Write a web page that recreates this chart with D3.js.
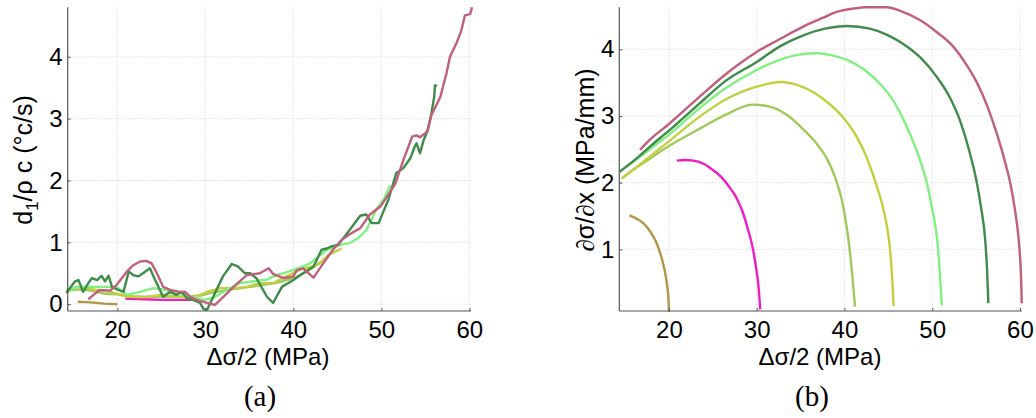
<!DOCTYPE html>
<html><head><meta charset="utf-8">
<script src="https://cdn.jsdelivr.net/npm/d3@7"></script>
<style>body{margin:0;background:#fff}svg{display:block}</style>
</head><body>
<svg id="c" width="1036" height="418"></svg>
<script>
// ---- tick labels ----
const xTicks = [20, 30, 40, 50, 60];
const yTicksA = [0, 1, 2, 3, 4];
const yTicksB = [1, 2, 3, 4];

// ---- series colours (same order in both panels) ----
const seriesNames = ["brown", "magenta", "olive", "yellow", "lightgreen", "darkgreen", "mauve"];
const seriesColors = ["#b3954a", "#f01cc0", "#a0c85a", "#c2d040", "#80f080", "#3f8c4a", "#c0607a"];

// ---- panel (a): d1/rho c ----
const aBrown = [[15.5,0.04],[17,0.03],[18.5,0.01],[20,0.0]];
const aMagenta = [[20.9,0.09],[23,0.08],[25,0.07],[27,0.07],[28.8,0.07]];
const aOlive = [[14.3,0.22],[15.5,0.24],[17,0.22],[18.5,0.17],[20,0.16],[21.5,0.13],[23,0.12],[25,0.12],[27,0.12],[28.5,0.13],[29.5,0.14],[30.5,0.18],[32,0.22],[34,0.26],[36,0.30],[38,0.34],[40,0.42],[41.5,0.52],[43.1,0.68]];
const aYellow = [[14.2,0.23],[15.8,0.28],[17.3,0.24],[19.2,0.20],[21.1,0.12],[23.0,0.11],[24.9,0.15],[26.8,0.12],[28.6,0.10],[30.2,0.20],[31.7,0.26],[33.2,0.26],[34.7,0.28],[36.2,0.34],[37.7,0.34],[39.2,0.45],[41.1,0.58],[42.3,0.61],[43.0,0.66],[44.0,0.80],[45.5,0.90]];
const aLightGreen = [[14.2,0.20],[15.4,0.28],[17.3,0.28],[18.8,0.28],[19.9,0.28],[21.1,0.15],[22.6,0.20],[24.1,0.26],[25.6,0.23],[27.1,0.18],[28.6,0.11],[29.8,0.07],[30.9,0.10],[32.4,0.23],[33.9,0.34],[35.5,0.37],[37.0,0.40],[38.1,0.47],[40.0,0.55],[41.9,0.66],[43.8,0.88],[45.3,0.96],[46.4,0.99],[47.4,1.07],[48.3,1.20],[49.5,1.55],[50.3,1.70],[51.0,1.92]];
const aDarkGreen = [[14.2,0.18],[15.2,0.37],[15.6,0.39],[16.1,0.20],[16.7,0.34],[17.1,0.42],[17.7,0.39],[18.2,0.46],[18.6,0.37],[19.0,0.46],[19.4,0.28],[20.1,0.23],[20.7,0.20],[21.3,0.53],[21.8,0.47],[22.4,0.45],[23.0,0.51],[23.7,0.58],[24.3,0.39],[25.2,0.12],[26.0,0.20],[26.7,0.15],[27.3,0.20],[27.9,0.10],[28.6,0.07],[29.4,0.02],[29.8,-0.08],[30.2,-0.09],[30.9,0.12],[32.0,0.45],[33.0,0.65],[33.7,0.61],[34.5,0.50],[35.1,0.50],[35.8,0.42],[37.0,0.12],[37.7,0.02],[38.7,0.28],[40.0,0.39],[41.1,0.50],[42.3,0.61],[43.2,0.88],[43.8,0.90],[44.4,0.94],[45.1,0.96],[45.7,1.07],[46.4,1.20],[47.6,1.43],[48.3,1.45],[48.9,1.31],[49.7,1.31],[50.0,1.42],[50.8,1.69],[51.7,2.12],[52.5,2.20],[53.3,2.36],[53.8,2.55],[54.0,2.60],[54.4,2.44],[54.8,2.65],[55.3,2.82],[55.7,3.09],[56.0,3.35],[56.1,3.54],[56.3,3.52]];
const aMauve = [[16.7,0.08],[17.3,0.15],[18.0,0.23],[19.2,0.22],[19.9,0.31],[21.1,0.53],[21.8,0.63],[22.6,0.69],[23.3,0.70],[23.9,0.66],[24.5,0.50],[25.2,0.28],[26.0,0.23],[27.1,0.20],[27.7,0.20],[28.3,0.12],[29.0,0.07],[30.2,0.02],[31.1,-0.01],[31.7,0.07],[33.2,0.28],[34.7,0.47],[36.2,0.50],[37.2,0.58],[37.7,0.49],[38.9,0.42],[40.0,0.45],[40.4,0.55],[41.1,0.58],[42.3,0.43],[43.4,0.66],[44.5,0.88],[45.5,1.04],[46.4,1.13],[47.6,1.23],[48.7,1.45],[49.9,1.58],[50.7,1.75],[51.6,1.95],[52.5,2.33],[53.5,2.71],[54.0,2.73],[54.4,2.70],[55.2,2.79],[55.7,3.06],[56.7,3.35],[57.4,3.73],[57.8,4.0],[58.6,4.24],[59.1,4.43],[59.5,4.67],[60.1,4.69],[60.3,4.80]];

// ---- panel (b): d sigma / dx ----
const bBrown = [[15.5,1.51],[16.3,1.46],[17.1,1.39],[17.9,1.26],[18.6,1.09],[19.1,0.90],[19.5,0.69],[19.8,0.45],[19.95,0.25],[20.0,0.06]];
const bMagenta = [[20.9,2.33],[21.8,2.34],[22.8,2.33],[24.0,2.28],[25.0,2.19],[26.0,2.08],[26.8,1.95],[27.7,1.77],[28.4,1.56],[29.0,1.30],[29.5,1.05],[29.9,0.75],[30.2,0.45],[30.4,0.10]];
const bOlive = [[14.7,2.07],[16,2.2],[17.8,2.36],[20,2.55],[23.5,2.81],[26.5,3.02],[29.5,3.17],[31.5,3.14],[33.5,3.01],[35.3,2.80],[36.8,2.59],[38.0,2.36],[38.9,2.09],[39.7,1.74],[40.2,1.38],[40.6,0.99],[40.9,0.6],[41.1,0.3],[41.2,0.14]];
const bYellow = [[14.6,2.06],[16,2.2],[17.8,2.39],[20,2.62],[23.5,2.99],[26.5,3.25],[30,3.44],[32.8,3.51],[34.5,3.47],[36.4,3.36],[38.3,3.18],[39.9,2.97],[41.3,2.71],[42.5,2.39],[43.5,2.02],[44.4,1.62],[44.9,1.3],[45.2,0.99],[45.45,0.55],[45.6,0.15]];
const bLightGreen = [[15.2,2.24],[17.8,2.5],[20,2.72],[23.5,3.12],[26.5,3.42],[30,3.69],[32.6,3.84],[34.8,3.92],[36.8,3.94],[38.6,3.91],[40.3,3.84],[42.3,3.69],[44.0,3.49],[45.7,3.2],[47.1,2.84],[48.4,2.42],[49.4,1.99],[50.0,1.6],[50.5,1.22],[50.85,0.7],[51.1,0.16]];
const bDarkGreen = [[14.34,2.16],[16,2.33],[18,2.56],[20,2.78],[23.5,3.19],[26.5,3.53],[30,3.81],[32.6,4.04],[35.3,4.21],[37.8,4.31],[40.3,4.35],[42.9,4.31],[44.8,4.22],[46.7,4.08],[48.7,3.87],[50.5,3.59],[52,3.28],[53.2,2.92],[54.2,2.49],[55.1,1.99],[55.6,1.6],[56.0,1.2],[56.25,0.7],[56.4,0.19]];
const bMauve = [[16.7,2.49],[17.8,2.64],[20,2.88],[23.5,3.29],[26.5,3.63],[30,3.96],[32.6,4.15],[35.3,4.34],[37.5,4.47],[39.1,4.56],[41,4.61],[42.5,4.63],[44.8,4.63],[46.5,4.57],[48.6,4.44],[50.5,4.26],[52.4,4.04],[53.8,3.79],[55.1,3.5],[56.3,3.14],[57.3,2.76],[58.2,2.36],[58.9,1.99],[59.4,1.62],[59.8,1.22],[60.05,0.8],[60.15,0.5],[60.2,0.19]];

const panelAData = [aBrown, aMagenta, aOlive, aYellow, aLightGreen, aDarkGreen, aMauve];
const panelBData = [bBrown, bMagenta, bOlive, bYellow, bLightGreen, bDarkGreen, bMauve];

const svg = d3.select("#c");
const SANS = "'Liberation Sans', Arial, sans-serif";
const SERIF = "'Liberation Serif', 'DejaVu Serif', serif";

function panel(cfg) {
  const x = d3.scaleLinear().domain(cfg.xDom).range(cfg.xRange);
  const y = d3.scaleLinear().domain(cfg.yDom).range([311, 7.3]);
  const g = svg.append("g");
  // grid
  g.selectAll(".gx").data(xTicks).join("line")
    .attr("x1", d => x(d)).attr("x2", d => x(d))
    .attr("y1", y.range()[0]).attr("y2", y.range()[1])
    .attr("stroke", "#d8d8d8").attr("stroke-width", 0.8).attr("stroke-dasharray", "1.5,1.5");
  g.selectAll(".gy").data(cfg.yTicks).join("line")
    .attr("x1", x.range()[0]).attr("x2", x.range()[1])
    .attr("y1", d => y(d)).attr("y2", d => y(d))
    .attr("stroke", "#d8d8d8").attr("stroke-width", 0.8).attr("stroke-dasharray", "1.5,1.5");
  // lines
  const line = d3.line().x(d => x(d[0])).y(d => y(d[1])).curve(cfg.curve);
  g.selectAll(".s").data(cfg.data).join("path")
    .attr("d", line).attr("fill", "none")
    .attr("stroke", (d, i) => seriesColors[i])
    .attr("stroke-width", 2.4).attr("stroke-linejoin", "round").attr("stroke-linecap", "butt");
  // axes
  const fmt = d3.format("d");
  const xa = g.append("g").attr("transform", `translate(0,${y.range()[0]})`)
    .call(d3.axisBottom(x).tickValues(xTicks).tickFormat(fmt).tickSize(-3).tickPadding(10));
  const ya = g.append("g").attr("transform", `translate(${x.range()[0]},0)`)
    .call(d3.axisLeft(y).tickValues(cfg.yTicks).tickFormat(fmt).tickSize(-3).tickPadding(cfg.yPad));
  [xa, ya].forEach(a => {
    a.select(".domain").attr("stroke", "#555").attr("stroke-width", 1.2);
    a.selectAll(".tick line").attr("stroke", "#555");
    a.selectAll("text").attr("font-family", SANS).attr("font-size", 24).attr("fill", "#000");
  });
  ya.select(".domain").attr("d", `M0,${y.range()[0]}V${y.range()[1]}`);
  xa.select(".domain").attr("d", `M${x.range()[0]},0H${x.range()[1]}`);
  // x title
  g.append("text").attr("x", cfg.xTitleX).attr("y", 365).attr("text-anchor", "middle")
    .attr("font-family", SANS).attr("font-size", 24).text("Δσ/2 (MPa)");
  // panel label
  g.append("text").attr("x", cfg.labelX).attr("y", 406).attr("text-anchor", "middle")
    .attr("font-family", SERIF).attr("font-size", 29).text(cfg.label);
  return g;
}

const gA = panel({xDom: [14.36, 60.2], xRange: [67.7, 471.1], yDom: [-0.11, 4.8], yTicks: yTicksA,
  data: panelAData, curve: d3.curveLinear, yPad: 5, xTitleX: 268, labelX: 260, label: "(a)"});
const gB = panel({xDom: [14.34, 60.2], xRange: [619.3, 1021.7], yDom: [0.075, 4.63], yTicks: yTicksB,
  data: panelBData, curve: d3.curveMonotoneX, yPad: 5, xTitleX: 820, labelX: 812, label: "(b)"});

// y titles
const tA = svg.append("text").attr("transform", "translate(32,160) rotate(-90)")
  .attr("text-anchor", "middle").attr("font-family", SANS).attr("font-size", 25);
tA.append("tspan").text("d");
tA.append("tspan").attr("font-size", 17).attr("dy", 6).text("1");
tA.append("tspan").attr("dy", -6).text("/ρ c (°c/s)");

const tB = svg.append("text").attr("transform", "translate(594,160) rotate(-90)")
  .attr("text-anchor", "middle").attr("font-family", SANS).attr("font-size", 25);
tB.append("tspan").attr("font-family", SERIF).attr("font-style", "italic").text("∂");
tB.append("tspan").text("σ/");
tB.append("tspan").attr("font-family", SERIF).attr("font-style", "italic").text("∂");
tB.append("tspan").text("x (MPa/mm)");
</script>
</body></html>
